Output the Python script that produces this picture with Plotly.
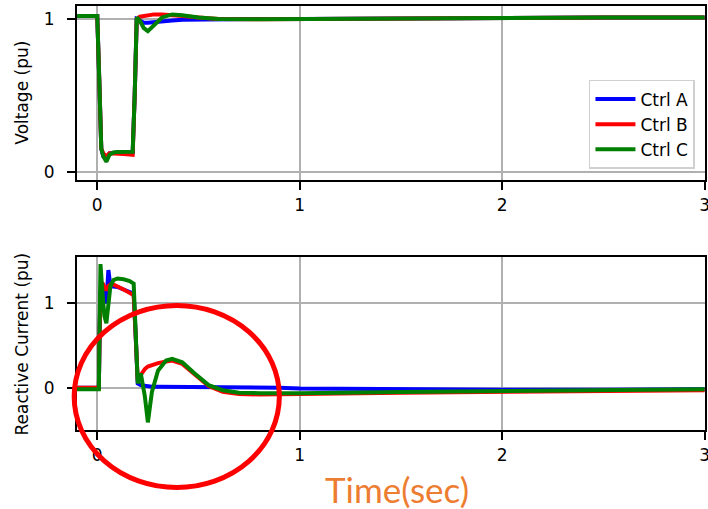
import plotly.graph_objects as go
from plotly.subplots import make_subplots

# ---------------- data ----------------
series_names = ["Ctrl A", "Ctrl B", "Ctrl C"]
series_colors = ["#0000ff", "#ff0000", "#008000"]

t_voltage = [-0.1, 0.0, 0.01, 0.02, 0.03, 0.045, 0.06, 0.08, 0.1, 0.13, 0.16, 0.175,
             0.185, 0.195, 0.21, 0.23, 0.25, 0.28, 0.32, 0.37, 0.42, 0.5, 0.6, 0.8,
             1.0, 1.5, 2.0, 2.5, 3.0]
volt_a = [1.02, 1.02, 0.6, 0.15, 0.1, 0.08, 0.12, 0.125, 0.125, 0.125, 0.125, 0.125,
          0.5, 1.0, 0.99, 0.975, 0.975, 0.98, 0.985, 0.99, 0.995, 0.997, 0.998, 1.0,
          1.0, 1.005, 1.008, 1.01, 1.01]
volt_b = [1.02, 1.02, 0.6, 0.15, 0.12, 0.1, 0.12, 0.12, 0.118, 0.115, 0.112, 0.11,
          0.5, 1.0, 1.015, 1.02, 1.025, 1.03, 1.03, 1.028, 1.02, 1.01, 1.0, 0.998,
          1.0, 1.005, 1.008, 1.01, 1.01]
volt_c = [1.02, 1.02, 0.6, 0.15, 0.1, 0.065, 0.11, 0.125, 0.128, 0.128, 0.128, 0.13,
          0.5, 1.01, 0.99, 0.94, 0.92, 0.96, 1.01, 1.03, 1.025, 1.01, 1.0, 0.998,
          1.0, 1.005, 1.008, 1.01, 1.01]

t_current = [-0.1, 0.008, 0.012, 0.016, 0.025, 0.035, 0.045, 0.055, 0.065, 0.08, 0.1,
             0.13, 0.16, 0.18, 0.19, 0.2, 0.215, 0.235, 0.25, 0.27, 0.3, 0.34, 0.37,
             0.42, 0.48, 0.55, 0.62, 0.7, 0.8, 0.9, 1.0, 1.5, 2.0, 2.5, 3.0]
curr_a = [0.0, 0.0, 0.7, 1.15, 1.2, 1.05, 1.0, 1.39, 1.2, 1.2, 1.19,
          1.16, 1.13, 1.11, 0.6, 0.05, 0.03, 0.02, 0.015, 0.01, 0.01, 0.01, 0.01,
          0.01, 0.01, 0.01, 0.008, 0.006, 0.005, 0.0, -0.01, -0.02, -0.025, -0.025, -0.02]
curr_b = [0.0, 0.0, 0.7, 1.1, 1.24, 1.2, 1.15, 1.2, 1.22, 1.22, 1.2,
          1.16, 1.12, 1.09, 0.6, 0.08, 0.15, 0.22, 0.25, 0.27, 0.29, 0.31, 0.32,
          0.28, 0.16, 0.02, -0.05, -0.075, -0.08, -0.08, -0.075, -0.06, -0.05, -0.04, -0.03]
curr_c = [-0.02, -0.02, 0.8, 1.46, 1.15, 0.85, 0.76, 1.0, 1.2, 1.27, 1.29,
          1.28, 1.26, 1.23, 0.6, 0.05, 0.17, -0.1, -0.41, -0.05, 0.2, 0.32, 0.34,
          0.3, 0.17, 0.03, -0.03, -0.06, -0.065, -0.065, -0.065, -0.05, -0.04, -0.03, -0.02]

x_ticks = [0, 1, 2, 3]
y_ticks = [0, 1]
x_title = "Time(sec)"
y_title_top = "Voltage (pu)"
y_title_bottom = "Reactive Current (pu)"

# ---------------- figure ----------------
fig = make_subplots(rows=2, cols=1, vertical_spacing=0.0)

for name, color, yv in zip(series_names, series_colors, [volt_a, volt_b, volt_c]):
    fig.add_trace(go.Scatter(x=t_voltage, y=yv, mode="lines", name=name,
                             line=dict(color=color, width=4)),
                  row=1, col=1)
for name, color, yv in zip(series_names, series_colors, [curr_a, curr_b, curr_c]):
    fig.add_trace(go.Scatter(x=t_current, y=yv, mode="lines", name=name,
                             line=dict(color=color, width=4), showlegend=False),
                  row=2, col=1)

FONT = "DejaVu Sans"
axis_common = dict(
    showgrid=True, gridcolor="#b0b0b0", gridwidth=1.5,
    showline=True, linecolor="black", linewidth=1.8, mirror=True,
    ticks="outside", ticklen=8, tickwidth=1.8, tickcolor="black",
    zeroline=False, automargin=False, ticklabeloverflow="allow",
    tickfont=dict(family=FONT, size=17, color="black"),
)

fig.update_xaxes(range=[-0.1, 3.002], tickvals=x_ticks, ticklabelstandoff=1, **axis_common)
fig.update_yaxes(tickvals=y_ticks, ticklabelstandoff=9, **axis_common)
fig.update_yaxes(range=[-0.055, 1.085], row=1, col=1)
fig.update_yaxes(range=[-0.5, 1.54], row=2, col=1)

fig.update_layout(
    width=708, height=509,
    margin=dict(l=77, r=3, t=6, b=79, autoexpand=False),
    paper_bgcolor="white", plot_bgcolor="white",
    showlegend=True,
    legend=dict(x=0.984, y=0.6156, xanchor="right", yanchor="bottom",
                tracegroupgap=0, itemwidth=40,
                bgcolor="rgba(255,255,255,0.9)", bordercolor="#d0d0d0", borderwidth=1.5,
                font=dict(family=FONT, size=17, color="black")),
)
fig.update_layout(
    xaxis=dict(domain=[0, 1], anchor="y"),
    yaxis=dict(domain=[0.5896, 1.0]),
    xaxis2=dict(domain=[0, 1], anchor="y2"),
    yaxis2=dict(domain=[0.0, 0.4073]),
)

fig.add_annotation(text=y_title_top, xref="paper", yref="paper", x=-0.088, y=0.795,
                   textangle=-90, showarrow=False, xanchor="center", yanchor="middle",
                   font=dict(family=FONT, size=17, color="black"))
fig.add_annotation(text=y_title_bottom, xref="paper", yref="paper", x=-0.088, y=0.2035,
                   textangle=-90, showarrow=False, xanchor="center", yanchor="middle",
                   font=dict(family=FONT, size=17, color="black"))
fig.add_annotation(text=x_title, xref="paper", yref="paper", x=0.51, y=-0.140,
                   showarrow=False, xanchor="center", yanchor="middle",
                   font=dict(family="Lato", size=35, color="#ED7D31"))

fig.add_shape(type="circle", xref="paper", yref="paper",
              x0=-0.0045, x1=0.3222, y0=-0.1356, y1=0.2936,
              line=dict(color="#ff0000", width=5), layer="above")

fig.write_html("out.html", config={"displayModeBar": False},
               post_script="document.body.style.margin='0px';document.body.style.overflow='hidden';")
